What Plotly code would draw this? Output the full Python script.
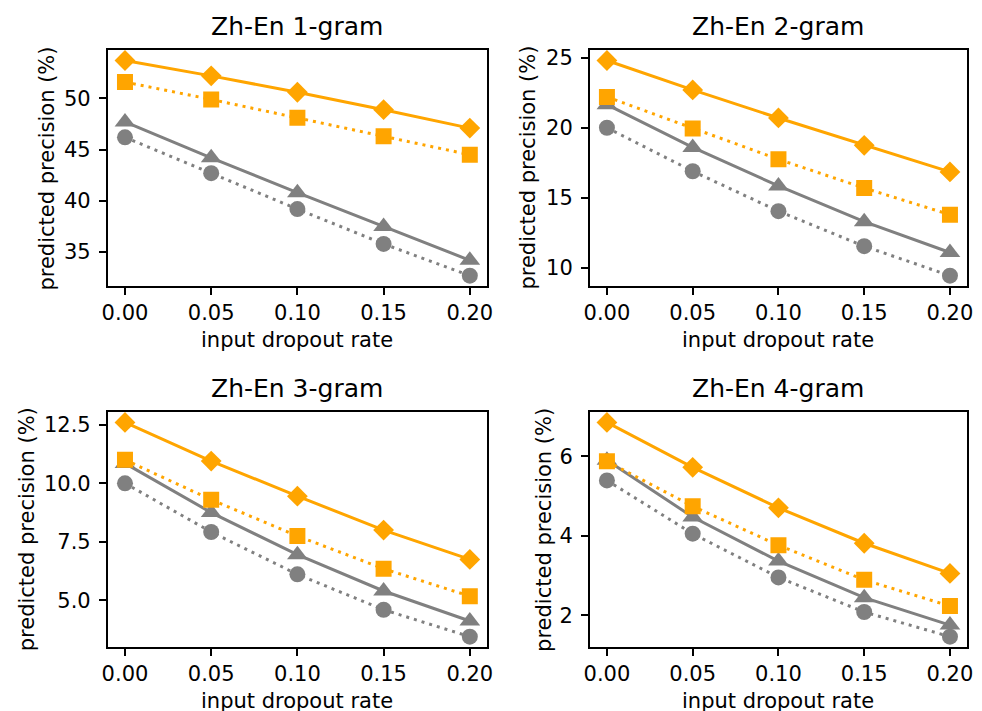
import plotly.graph_objects as go

# ---- data ----
dropout = [0.00, 0.05, 0.10, 0.15, 0.20]
titles = ["Zh-En 1-gram", "Zh-En 2-gram", "Zh-En 3-gram", "Zh-En 4-gram"]

# series per panel: orange diamond (solid), orange square (dotted),
# grey triangle (solid), grey circle (dotted)
diamond = [
    [53.7, 52.2, 50.6, 48.9, 47.1],
    [24.8, 22.7, 20.7, 18.75, 16.85],
    [12.6, 10.95, 9.45, 8.0, 6.75],
    [6.85, 5.72, 4.70, 3.81, 3.05],
]
square = [
    [51.6, 49.9, 48.1, 46.3, 44.5],
    [22.2, 19.95, 17.75, 15.7, 13.8],
    [11.0, 9.3, 7.75, 6.35, 5.18],
    [5.87, 4.74, 3.76, 2.89, 2.23],
]
triangle = [
    [47.7, 44.2, 40.8, 37.5, 34.2],
    [21.65, 18.6, 15.85, 13.3, 11.1],
    [10.85, 8.75, 6.95, 5.4, 4.12],
    [5.9, 4.47, 3.36, 2.44, 1.75],
]
circle = [
    [46.2, 42.7, 39.2, 35.8, 32.7],
    [20.0, 16.9, 14.05, 11.55, 9.45],
    [10.0, 7.92, 6.11, 4.6, 3.45],
    [5.39, 4.05, 2.95, 2.08, 1.46],
]
ytick_vals = [
    [35, 40, 45, 50],
    [10, 15, 20, 25],
    [5.0, 7.5, 10.0, 12.5],
    [2, 4, 6],
]
ytick_text = [
    ["35", "40", "45", "50"],
    ["10", "15", "20", "25"],
    ["5.0", "7.5", "10.0", "12.5"],
    ["2", "4", "6"],
]
xtick_text = ["0.00", "0.05", "0.10", "0.15", "0.20"]

ORANGE = "#FFA500"
GREY = "#808080"
FONT = "DejaVu Sans"
W, H = 982, 711

# layout geometry (pixels)
cols = [(103, 487), (591, 973)]
rows = [(46, 284), (410, 647)]
ylabel_offset = [61, 62, 82, 47]

fig = go.Figure()
layout = dict(
    width=W, height=H,
    margin=dict(l=0, r=0, t=0, b=0),
    paper_bgcolor="white", plot_bgcolor="white",
    showlegend=False,
    font=dict(family=FONT, size=21, color="black"),
)
annotations = []

for i in range(4):
    r, c = divmod(i, 2)
    x0, x1 = cols[c]
    y0, y1 = rows[r]
    xa = "xaxis" if i == 0 else f"xaxis{i+1}"
    ya = "yaxis" if i == 0 else f"yaxis{i+1}"
    xref = "x" if i == 0 else f"x{i+1}"
    yref = "y" if i == 0 else f"y{i+1}"

    series = [
        (triangle[i], GREY, "solid", "triangle-up", 18),
        (circle[i], GREY, "3px,5px", "circle", 16),
        (diamond[i], ORANGE, "solid", "diamond", 16),
        (square[i], ORANGE, "3px,5px", "square", 16),
    ]
    allv = []
    for vals, col, dash, sym, ms in series:
        allv += vals
        fig.add_trace(go.Scatter(
            x=dropout, y=vals, xaxis=xref, yaxis=yref,
            mode="lines+markers",
            line=dict(color=col, width=3, dash=dash),
            marker=dict(symbol=sym, size=ms, color=col, line=dict(width=0)),
        ))
    lo, hi = min(allv), max(allv)
    span = hi - lo
    axis_common = dict(
        showline=True, mirror=True, linecolor="black", linewidth=1.6,
        ticks="outside", ticklen=7, tickwidth=1.6, tickcolor="black",
        showgrid=False, zeroline=False,
        tickfont=dict(family=FONT, size=21, color="black"),
    )
    layout[xa] = dict(
        domain=[x0 / W, x1 / W], anchor=yref,
        range=[-0.01, 0.21], tickvals=dropout, ticktext=xtick_text,
        ticklabelstandoff=0,
        **axis_common,
    )
    layout[ya] = dict(
        domain=[1 - y1 / H, 1 - y0 / H], anchor=xref,
        range=[lo - 0.05 * span, hi + 0.05 * span],
        tickvals=ytick_vals[i], ticktext=ytick_text[i],
        ticklabelstandoff=4,
        **axis_common,
    )
    cx = (x0 + x1) / 2 / W
    # title
    annotations.append(dict(
        text=titles[i], xref="paper", yref="paper", x=cx, y=1 - (y0 - 23) / H,
        xanchor="center", yanchor="middle", showarrow=False,
        font=dict(family=FONT, size=25, color="black"),
    ))
    # x label
    annotations.append(dict(
        text="input dropout rate", xref="paper", yref="paper",
        x=cx, y=1 - (y1 + 54) / H,
        xanchor="center", yanchor="middle", showarrow=False,
        font=dict(family=FONT, size=21, color="black"),
    ))
    # y label
    annotations.append(dict(
        text="predicted precision (%)", xref="paper", yref="paper",
        x=(x0 - ylabel_offset[i]) / W, y=1 - (y0 + y1) / 2 / H,
        xanchor="center", yanchor="middle", textangle=-90, showarrow=False,
        font=dict(family=FONT, size=21, color="black"),
    ))

layout["annotations"] = annotations
fig.update_layout(**layout)
fig.write_html("out.html")
